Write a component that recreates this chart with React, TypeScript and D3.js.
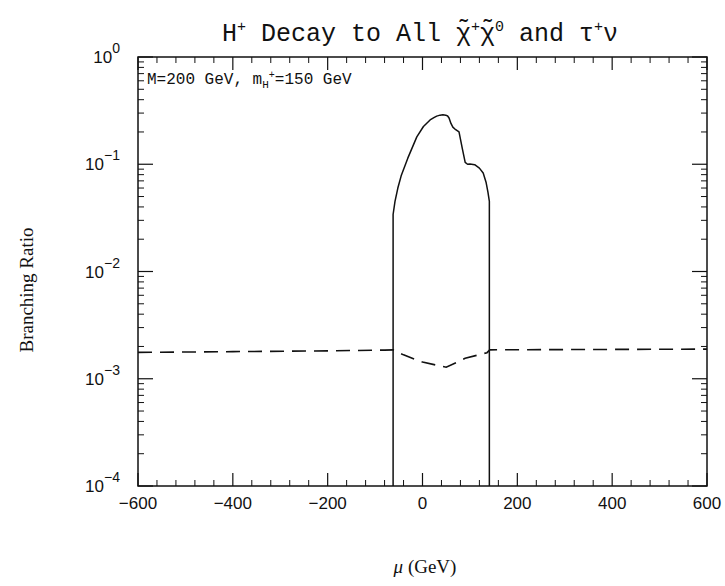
import React from "react";
import * as d3 from "d3";

const W = 725;
const H = 586;
const margin = { left: 138, right: 18, top: 57, bottom: 100 };

// axes
const muDomain = [-600, 600];
const brDomain = [1e-4, 1];
const xTickLabels = [-600, -400, -200, 0, 200, 400, 600];
const yDecadeExps = [0, -1, -2, -3, -4];

// solid curve: BR(H+ -> all chargino/neutralino)
const chiMu = [-62, -62, -58, -52, -45, -31, -12, 2, 16, 24, 30, 37, 43, 49, 53, 56, 60, 64, 70, 77, 84, 90, 95, 100, 110, 120, 128, 134, 138, 141, 141];
const chiBR = [1e-4, 0.034, 0.045, 0.06, 0.078, 0.114, 0.18, 0.225, 0.259, 0.272, 0.281, 0.287, 0.289, 0.287, 0.282, 0.27, 0.24, 0.222, 0.21, 0.2, 0.14, 0.104, 0.1, 0.1005, 0.099, 0.092, 0.083, 0.068, 0.055, 0.045, 1e-4];

// dashed curve: BR(H+ -> tau nu)
const tauMu = [-600, -400, -200, -80, -62, -40, 0, 50, 90, 136, 142, 300, 600];
const tauBR = [1.76e-3, 1.79e-3, 1.82e-3, 1.85e-3, 1.86e-3, 1.67e-3, 1.43e-3, 1.28e-3, 1.55e-3, 1.75e-3, 1.86e-3, 1.87e-3, 1.89e-3];

const monoFont = "'Liberation Mono', 'DejaVu Sans Mono', monospace";
const sansFont = "'Liberation Sans', Arial, sans-serif";
const serifFont = "'Liberation Serif', 'DejaVu Serif', serif";

export default function App() {
  const iw = W - margin.left - margin.right;
  const ih = H - margin.top - margin.bottom;

  const x = d3.scaleLinear().domain(muDomain).range([0, iw]);
  const y = d3.scaleLog().domain(brDomain).range([ih, 0]);

  const line = d3
    .line<[number, number]>()
    .x((d) => x(d[0]))
    .y((d) => y(d[1]));

  const chiPts = chiMu.map((m, i) => [m, chiBR[i]] as [number, number]);
  const tauPts = tauMu.map((m, i) => [m, tauBR[i]] as [number, number]);

  const xMinor = d3.range(muDomain[0], muDomain[1] + 1, 40).filter((v) => v % 200 !== 0);
  const yMinor: number[] = [];
  yDecadeExps.slice(1).forEach((e) => {
    for (let k = 2; k <= 9; k++) yMinor.push(k * Math.pow(10, e));
  });

  const majorLen = 13;
  const minorLen = 6;

  return (
    <svg width={W} height={H} style={{ position: "absolute", left: 0, top: 0, background: "#fff" }}>
      {/* title */}
      <text x={420} y={41} textAnchor="middle" fontFamily={monoFont} fontSize={25} fill="#111">
        H<tspan dy={-10} fontSize={15}>+</tspan>
        <tspan dy={10}> Decay to All </tspan>
        <tspan>χ̃</tspan>
        <tspan dy={-10} fontSize={15}>+</tspan>
        <tspan dy={10}>χ̃</tspan>
        <tspan dy={-10} fontSize={15}>0</tspan>
        <tspan dy={10}> and τ</tspan>
        <tspan dy={-10} fontSize={15}>+</tspan>
        <tspan dy={10}>ν</tspan>
      </text>

      <g transform={`translate(${margin.left},${margin.top})`}>
        <rect x={0} y={0} width={iw} height={ih} fill="none" stroke="#111" strokeWidth={1.5} />

        {/* x ticks, bottom and top */}
        {xTickLabels.map((v) => (
          <g key={`xm${v}`}>
            <line x1={x(v)} x2={x(v)} y1={ih} y2={ih - majorLen} stroke="#111" strokeWidth={1.2} />
            <line x1={x(v)} x2={x(v)} y1={0} y2={majorLen} stroke="#111" strokeWidth={1.2} />
            <text x={x(v)} y={ih + 23} textAnchor="middle" fontFamily={sansFont} fontSize={17} fill="#111">
              {v < 0 ? `\u2212${Math.abs(v)}` : v}
            </text>
          </g>
        ))}
        {xMinor.map((v) => (
          <g key={`xn${v}`}>
            <line x1={x(v)} x2={x(v)} y1={ih} y2={ih - minorLen} stroke="#111" strokeWidth={1} />
            <line x1={x(v)} x2={x(v)} y1={0} y2={minorLen} stroke="#111" strokeWidth={1} />
          </g>
        ))}

        {/* y ticks, left and right */}
        {yDecadeExps.map((e) => {
          const yy = y(Math.pow(10, e));
          return (
            <g key={`ym${e}`}>
              <line x1={0} x2={majorLen + 2} y1={yy} y2={yy} stroke="#111" strokeWidth={1.2} />
              <line x1={iw} x2={iw - majorLen - 2} y1={yy} y2={yy} stroke="#111" strokeWidth={1.2} />
              <text x={-18} y={yy + 6} textAnchor="end" fontFamily={sansFont} fontSize={17} fill="#111">
                10<tspan dy={-10} fontSize={14}>{e === 0 ? "0" : `\u2212${Math.abs(e)}`}</tspan>
              </text>
            </g>
          );
        })}
        {yMinor.map((v) => (
          <g key={`yn${v}`}>
            <line x1={0} x2={minorLen} y1={y(v)} y2={y(v)} stroke="#111" strokeWidth={1} />
            <line x1={iw} x2={iw - minorLen} y1={y(v)} y2={y(v)} stroke="#111" strokeWidth={1} />
          </g>
        ))}

        {/* curves */}
        <path d={line(chiPts) ?? ""} fill="none" stroke="#111" strokeWidth={1.5} strokeLinejoin="round" />
        <path d={line(tauPts) ?? ""} fill="none" stroke="#111" strokeWidth={1.6} strokeDasharray="14,8" />

        {/* annotation */}
        <text x={9} y={27} fontFamily={monoFont} fontSize={16} fill="#111">
          M=200 GeV, m<tspan dy={4} fontSize={11}>H</tspan>
          <tspan dy={-10} fontSize={10}>+</tspan>
          <tspan dy={6}>=150 GeV</tspan>
        </text>
      </g>

      {/* axis titles */}
      <text
        transform={`translate(33,290) rotate(-90)`}
        textAnchor="middle"
        fontFamily={serifFont}
        fontSize={19}
        fill="#111"
      >
        Branching Ratio
      </text>
      <text x={425} y={573} textAnchor="middle" fontFamily={serifFont} fontSize={19} fill="#111">
        <tspan fontStyle="italic">μ</tspan> (GeV)
      </text>
    </svg>
  );
}
